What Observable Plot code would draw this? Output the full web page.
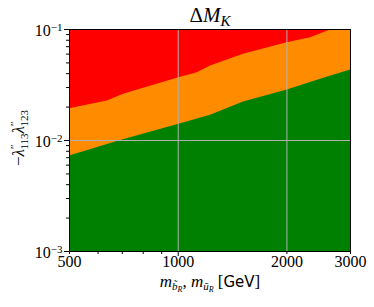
<!DOCTYPE html>
<html><head><meta charset="utf-8">
<script src="https://cdn.jsdelivr.net/npm/d3@7"></script>
<script src="https://cdn.jsdelivr.net/npm/@observablehq/plot@0.6"></script>
<style>body{margin:0;background:#fff}</style>
</head><body><div id="chart"></div>
<script>
// Boundary of the green (allowed) region: mass [GeV] -> coupling
const greenX = [500, 685, 1004, 1229, 1516, 2004, 2478, 3000];
const greenTop = [0.00725, 0.0099, 0.0140, 0.01686, 0.0222, 0.0285, 0.0356, 0.0432];
// Boundary between orange band and red (excluded) region
const redX = [500, 636, 706, 1004, 1129, 1229, 1516, 2004, 2325, 2641, 2680, 3000];
const redBottom = [0.0193, 0.0227, 0.0261, 0.0368, 0.0408, 0.0469, 0.0598, 0.0760, 0.0844, 0.099, 0.1, 0.1];
// Axis ticks
const xLabelTicks = [500, 1000, 2000, 3000];
const xLabelText = ["500", "1000", "2000", "3000"];
const xMajorTicks = [1000];
const xMinorTicks = [500, 600, 700, 800, 900, 2000, 3000];
const yMajorTicks = [0.001, 0.01, 0.1];
const yTickExp = ["−3", "−2", "−1"];
const yMinorTicks = [0.002,0.003,0.004,0.005,0.006,0.007,0.008,0.009,0.02,0.03,0.04,0.05,0.06,0.07,0.08,0.09];
const xGrid = [1000, 2000];
const yGrid = [0.01];
const yMin = 0.001, yMax = 0.1;

const greenRows = greenX.map((x, i) => ({x, y: greenTop[i]}));
const redRows = redX.map((x, i) => ({x, y: redBottom[i]}));
const xLabRows = xLabelTicks.map((x, i) => ({x, t: xLabelText[i]}));
const yLabRows = yMajorTicks.map((y, i) => ({y, t: "10|" + yTickExp[i]}));

const serif = "'Liberation Serif', serif";
const svg = Plot.plot({
  width: 374, height: 307,
  marginLeft: 69, marginRight: 24, marginTop: 29, marginBottom: 56,
  style: {fontFamily: serif, fontSize: "16px", color: "black", background: "white"},
  x: {type: "log", domain: [500, 3000]},
  y: {type: "log", domain: [yMin, yMax]},
  marks: [
    Plot.areaY(redRows, {x: "x", y1: yMin, y2: yMax, fill: "#ff0000"}),
    Plot.areaY(redRows, {x: "x", y1: yMin, y2: "y", fill: "#ff8c00"}),
    Plot.areaY(greenRows, {x: "x", y1: yMin, y2: "y", fill: "#008000"}),
    Plot.gridX(xGrid, {stroke: "#b0b0b0", strokeOpacity: 1, strokeWidth: 1}),
    Plot.gridY(yGrid, {stroke: "#b0b0b0", strokeOpacity: 1, strokeWidth: 1}),
    Plot.axisX(xMinorTicks, {tickSize: 3, tickFormat: () => "", label: null, stroke: "black"}),
    Plot.axisX(xMajorTicks, {tickSize: 5, tickFormat: () => "", label: null, stroke: "black"}),
    Plot.axisY(yMinorTicks, {tickSize: 3, tickFormat: () => "", label: null, stroke: "black"}),
    Plot.axisY(yMajorTicks, {tickSize: 5, tickFormat: () => "", label: null, stroke: "black"}),
    Plot.text(xLabRows, {x: "x", text: "t", frameAnchor: "bottom", dy: 15, fontSize: 16, fill: "black"}),
    Plot.text(yLabRows, {y: "y", text: "t", frameAnchor: "left", dx: -7, dy: 1, textAnchor: "end", fontSize: 16, fill: "black"}),
    Plot.frame({stroke: "black", strokeWidth: 1})
  ]
});
document.getElementById("chart").appendChild(svg);

const s = d3.select(svg);
// superscript exponents on y tick labels
s.selectAll("text").each(function() {
  const t = d3.select(this);
  const txt = this.textContent;
  if (txt.includes("|")) {
    const [b, e] = txt.split("|");
    t.text(b);
    t.append("tspan").attr("dy", "-0.45em").attr("font-size", "11px").text(e);
  }
});

// Title
const title = s.append("text").attr("x", 210).attr("y", 22).attr("text-anchor", "middle")
  .attr("font-family", serif).attr("font-size", "21px").attr("fill", "black");
title.append("tspan").text("Δ");
title.append("tspan").attr("font-style", "italic").text("M");
title.append("tspan").attr("font-style", "italic").attr("font-size", "15px").attr("dy", "4").text("K");

// X label
const xl = s.append("text").attr("x", 210).attr("y", 287).attr("text-anchor", "middle")
  .attr("font-family", serif).attr("font-size", "17px").attr("fill", "black");
xl.append("tspan").attr("font-style", "italic").text("m");
xl.append("tspan").attr("font-style", "italic").attr("font-size", "11px").attr("dy", "3").text("b̃");
xl.append("tspan").attr("font-style", "italic").attr("font-size", "8px").attr("dy", "2").text("R");
xl.append("tspan").attr("dy", "-5").text(", ");
xl.append("tspan").attr("font-style", "italic").text("m");
xl.append("tspan").attr("font-style", "italic").attr("font-size", "11px").attr("dy", "3").text("ũ");
xl.append("tspan").attr("font-style", "italic").attr("font-size", "8px").attr("dy", "2").text("R");
xl.append("tspan").attr("dy", "-5").text(" [");
xl.append("tspan").attr("font-family", "'DejaVu Sans', sans-serif").attr("font-size", "15px").text("GeV");
xl.append("tspan").text("]");

// Y label
const yl = s.append("text").attr("transform", "translate(24,138) rotate(-90)").attr("text-anchor", "middle")
  .attr("font-family", serif).attr("font-size", "17px").attr("fill", "black");
yl.append("tspan").text("−");
yl.append("tspan").attr("font-style", "italic").text("λ");
yl.append("tspan").attr("font-size", "11px").attr("dy", "-6").text("″");
yl.append("tspan").attr("font-size", "11px").attr("dx", "-5").attr("dy", "10").text("113");
yl.append("tspan").attr("font-style", "italic").attr("dy", "-4").text("λ");
yl.append("tspan").attr("font-size", "11px").attr("dy", "-6").text("″");
yl.append("tspan").attr("font-size", "11px").attr("dx", "-5").attr("dy", "10").text("123");
</script>
</body></html>
